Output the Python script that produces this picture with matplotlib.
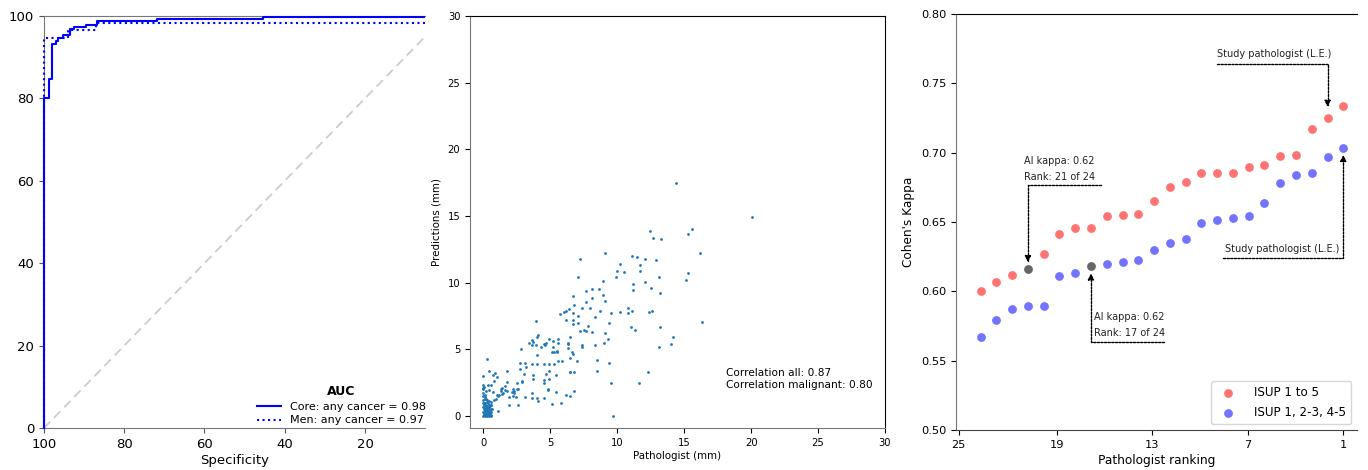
import numpy as np
import matplotlib
matplotlib.use("Agg")
import matplotlib.pyplot as plt
from matplotlib.patches import Rectangle

# ---- panel 1: ROC (specificity vs sensitivity) ----
core_spec = [100, 98.8, 98.1, 97.1, 96.4, 95.2, 93.5, 92.5, 89.5, 86.9, 71.9, 45.5, 0]
core_sens = [0, 80.0, 84.7, 93.3, 94.0, 94.7, 95.5, 96.8, 97.4, 97.8, 98.7, 99.2, 99.7]
men_spec = [100, 94.0, 87.0, 0]
men_sens = [0, 94.7, 96.6, 98.4]
auc_labels = ["Core: any cancer = 0.98", "Men: any cancer = 0.97"]

# ---- panel 2: tumour length, pathologist vs predictions (mm) ----
pathologist_mm = [
    14.4, 12.45, 12.7, 13.3, 15.3, 15.6, 16.2, 9.1, 7.2, 11.1, 11.5, 12.1, 12.9, 11.7,
    10.2, 10.0, 10.5, 11.7, 15.3, 15.1, 7.1, 9.9, 13.1, 8.9, 11.2, 12.1, 12.5, 11.2,
    13.2, 7.7, 8.1, 8.6, 8.9, 6.7, 8.1, 7.7, 9.1, 6.8, 7.4, 8.0, 8.7, 9.5, 10.2, 10.8,
    11.1, 10.8, 12.4, 12.6, 5.7, 6.0, 6.2, 6.4, 6.7, 7.1, 6.2, 6.7, 7.1, 6.7, 8.3, 7.8,
    7.7, 7.5, 7.2, 8.1, 9.4, 9.1, 9.3, 9.0, 8.3, 7.4, 7.4, 6.5, 6.3, 6.3, 6.3, 6.6,
    6.7, 6.5, 7.0, 5.9, 5.6, 5.6, 5.6, 5.2, 5.2, 5.1, 5.3, 5.5, 5.5, 4.9, 4.7, 4.6,
    4.5, 4.3, 4.1, 4.0, 3.9, 3.7, 3.4, 3.6, 3.6, 3.9, 2.8, 4.0, 4.0, 4.9, 4.9, 4.7,
    4.5, 5.3, 5.4, 4.5, 4.5, 4.9, 4.8, 5.4, 5.1, 5.8, 6.2, 6.5, 6.8, 6.5, 6.8, 6.5,
    8.5, 8.5, 9.4, 9.5, 9.7, 11.6, 12.3, 14.0, 14.2, 13.1, 13.2, 11.3, 11.0, 16.3,
    20.1, 3.1, 2.7, 3.2, 3.6, 3.7, 3.7, 3.0, 2.9, 2.7, 2.9, 2.5, 1.8, 1.8, 2.2, 2.3,
    2.5, 2.6, 2.4, 2.1, 2.2, 2.3, 1.8, 1.9, 1.9, 2.6, 3.1, 3.6, 3.6, 4.0, 4.1, 4.5,
    4.8, 1.1, 1.6, 1.4, 1.3, 1.3, 1.6, 1.5, 1.4, 1.2, 1.1, 1.0, 1.0, 0.9, 0.7, 0.45,
    0.8, 0.6, 0.3, 0.0, 0.0, 0.35, 0.0, 0.2, 0.45, 0.7, 0.8, 0.95, 0.6, 0.55, 0.3,
    0.0, 0.05, 0.1, 0.15, 0.2, 0.25, 0.3, 0.35, 0.4, 0.45, 0.5, 0.55, 0.6,
    0.0, 0.1, 0.2, 0.3, 0.4, 0.5, 0.6, 0.05, 0.15, 0.25, 0.35, 0.45, 0.55,
    0.0, 0.1, 0.2, 0.3, 0.4, 0.5, 0.05, 0.15, 0.25, 0.35, 0.45, 0.0, 0.1, 0.2, 0.3,
    0.6, 0.65, 0.02, 0.12, 0.22, 0.32, 0.42, 0.52, 0.08,
    0.0, 0.0, 0.0, 0.05, 0.1, 0.15, 0.0, 0.1,
]
predictions_mm = [
    17.45, 13.9, 13.35, 13.3, 13.65, 14.0, 12.2, 12.25, 11.8, 12.0, 11.95, 11.8, 11.7, 11.3,
    11.4, 10.9, 10.8, 10.85, 10.75, 10.2, 10.4, 10.4, 10.4, 10.15, 9.9, 10.05, 9.6, 9.45,
    9.25, 9.4, 9.5, 9.5, 9.1, 9.0, 8.85, 8.55, 8.6, 8.3, 8.1, 8.1, 7.9, 7.7, 7.8, 8.1,
    7.85, 7.7, 7.8, 7.9, 7.65, 7.8, 7.9, 8.0, 7.7, 7.5, 7.2, 7.2, 7.0, 6.9, 7.45, 6.75,
    6.4, 6.45, 6.4, 6.3, 7.0, 6.2, 5.8, 5.5, 5.3, 5.3, 5.2, 5.9, 5.5, 5.4, 5.1, 4.8,
    4.65, 4.35, 4.1, 4.1, 4.1, 5.75, 5.45, 5.6, 5.2, 4.8, 4.8, 4.9, 4.8, 5.75, 5.5, 5.3,
    5.4, 5.2, 6.1, 5.9, 7.1, 5.55, 5.5, 5.7, 5.35, 5.35, 5.0, 4.55, 3.9, 3.9, 3.35, 3.15,
    3.9, 3.9, 3.1, 2.7, 2.5, 2.8, 1.95, 1.8, 0.9, 1.0, 1.6, 1.5, 1.9, 3.3, 3.3, 3.3,
    4.2, 3.4, 3.95, 2.5, 0.0, 2.5, 3.3, 5.4, 5.9, 5.2, 6.65, 6.45, 6.7, 7.05,
    14.9, 4.0, 4.0, 3.7, 3.9, 3.1, 2.8, 3.15, 2.55, 3.5, 2.6, 2.5, 3.4, 2.55, 2.0, 1.75,
    2.05, 2.0, 1.4, 1.8, 1.5, 1.85, 1.9, 1.4, 0.85, 0.8, 1.45, 1.35, 1.7, 1.35, 1.1, 1.35,
    2.0, 0.35, 2.25, 2.1, 2.05, 1.9, 1.95, 1.75, 1.65, 1.6, 1.5, 1.55, 2.9, 3.2, 3.05, 3.4,
    2.65, 2.3, 4.3, 3.0, 2.3, 2.3, 2.1, 1.9, 1.95, 1.8, 1.2, 1.3, 1.05, 0.85, 0.75,
    0.0, 0.1, 0.0, 0.05, 0.15, 0.0, 0.1, 0.05, 0.0, 0.1, 0.05, 0.0, 0.1,
    0.3, 0.35, 0.25, 0.4, 0.3, 0.35, 0.3, 0.5, 0.55, 0.45, 0.6, 0.5, 0.55,
    0.7, 0.75, 0.8, 0.7, 0.85, 0.75, 0.95, 1.0, 1.05, 0.95, 1.1, 1.2, 1.25, 1.3, 1.2,
    0.8, 0.5, 0.15, 0.2, 0.6, 0.2, 0.65, 0.2, 0.85,
    1.5, 1.7, 2.0, 2.2, 1.6, 1.4, 1.0, 0.45,
]
corr_all = 0.87
corr_malignant = 0.80

# ---- panel 3: Cohen's kappa per pathologist rank ----
ranks = list(range(24, 0, -1))
kappa_isup5 = [0.600, 0.607, 0.612, 0.616, 0.627, 0.641, 0.646, 0.646, 0.654, 0.655, 0.6555,
               0.665, 0.675, 0.679, 0.685, 0.6855, 0.6855, 0.690, 0.691, 0.6976, 0.6985,
               0.717, 0.725, 0.734]
kappa_isup3 = [0.567, 0.579, 0.587, 0.5895, 0.5897, 0.611, 0.613, 0.618, 0.620, 0.621, 0.6225,
               0.630, 0.635, 0.638, 0.6495, 0.6514, 0.6526, 0.654, 0.664, 0.678, 0.684,
               0.685, 0.6967, 0.7034]
ai_rank_isup5 = 21
ai_rank_isup3 = 17
rank_ticks = [25, 19, 13, 7, 1]

fig = plt.figure(figsize=(13.68, 4.70), dpi=100)
ax1 = fig.add_axes([0.03216, 0.08936, 0.2785, 0.8766])
ax2 = fig.add_axes([0.34357, 0.08936, 0.30336, 0.8766])
ax3 = fig.add_axes([0.69883, 0.08511, 0.29313, 0.88511])

# panel 1
ax1.plot([100, 0], [0, 100], ls="--", color="#cccccc", lw=1.3, dashes=(5, 3))
l1, = ax1.step(core_spec, core_sens, where="pre", color="blue", lw=1.5, label=auc_labels[0],
               zorder=3)
l2, = ax1.step(men_spec, men_sens, where="pre", color="blue", lw=1.5, ls=":", label=auc_labels[1],
               zorder=3)
# let the curves sit over the left spine
clip = Rectangle((-0.01, -0.01), 1.01, 1.02, transform=ax1.transAxes, visible=False)
ax1.add_patch(clip)
l1.set_clip_path(clip)
l2.set_clip_path(clip)
ax1.set_xlim(100, 5.05)
ax1.set_ylim(0, 100)
ax1.set_xticks([100, 80, 60, 40, 20])
ax1.set_yticks([0, 20, 40, 60, 80, 100])
ax1.tick_params(labelsize=9.5, color="#555555")
ax1.set_xlabel("Specificity", fontsize=9.5, labelpad=2)
for s in ["top", "bottom", "left"]:
    ax1.spines[s].set_color("#777777")
ax1.spines["right"].set_visible(False)
leg = ax1.legend(loc="lower right", bbox_to_anchor=(1.02, -0.01), frameon=False,
                 fontsize=8, title="AUC", title_fontproperties={"weight": "bold", "size": 9},
                 handlelength=2.2, borderaxespad=0.2, labelspacing=0.35)

# panel 2
ax2.scatter(pathologist_mm, predictions_mm, s=4, color="#1f77b4", linewidths=0)
ax2.set_xlim(-1, 30)
ax2.set_ylim(-0.9, 30)
ax2.set_xticks(range(0, 31, 5))
ax2.set_yticks(range(0, 31, 5))
ax2.tick_params(labelsize=7.2)
ax2.set_xlabel("Pathologist (mm)", fontsize=7.4, labelpad=2)
ax2.set_ylabel("Predictions (mm)", fontsize=7.4)
ax2.text(18.1, 1.95, "Correlation all: %.2f\nCorrelation malignant: %.2f" % (corr_all, corr_malignant),
         fontsize=7.6, ha="left", va="bottom")
ax2.spines["left"].set_color("#777777")
ax2.spines["bottom"].set_color("#777777")

# panel 3
ai_i5 = ranks.index(ai_rank_isup5)
ai_i3 = ranks.index(ai_rank_isup3)
r5 = [r for i, r in enumerate(ranks) if i != ai_i5]
k5 = [k for i, k in enumerate(kappa_isup5) if i != ai_i5]
r3 = [r for i, r in enumerate(ranks) if i != ai_i3]
k3 = [k for i, k in enumerate(kappa_isup3) if i != ai_i3]
ax3.scatter(r5, k5, s=40, color="red", alpha=0.55, linewidths=0, label="ISUP 1 to 5")
ax3.scatter(r3, k3, s=40, color="blue", alpha=0.55, linewidths=0, label="ISUP 1, 2-3, 4-5")
ax3.scatter([ai_rank_isup5, ai_rank_isup3], [kappa_isup5[ai_i5], kappa_isup3[ai_i3]],
            s=40, color="black", alpha=0.6, linewidths=0)
ax3.set_xlim(25.56, 0.13)
ax3.set_ylim(0.5, 0.8)
ax3.set_xticks([25.4, 19.15, 13.1, 7.05, 1])
ax3.set_xticklabels([str(t) for t in rank_ticks])
ax3.set_yticks(np.arange(0.5, 0.81, 0.05))
ax3.tick_params(labelsize=8.2)
ax3.set_xlabel("Pathologist ranking", fontsize=8.7, labelpad=3)
ax3.set_ylabel("Cohen's Kappa", fontsize=8.7)
ax3.spines["right"].set_visible(False)
ax3.spines["left"].set_color("#777777")
ax3.spines["bottom"].set_color("#444444")
ax3.legend(loc="lower right", fontsize=8.6, borderaxespad=0.5, handletextpad=1.2,
           labelspacing=0.6, scatterpoints=1)

arrow_kw = dict(arrowstyle="-|>", color="black", lw=1.0, linestyle=(0, (1.6, 1.0)),
                patchA=None, shrinkA=0, mutation_scale=9)


def callout(text, start, target, text_xy, shrink, ha="left"):
    ax3.annotate("", xy=target, xytext=start,
                 arrowprops=dict(connectionstyle="angle,angleA=0,angleB=90,rad=0",
                                 shrinkB=shrink, **arrow_kw))
    ax3.text(text_xy[0], text_xy[1], text, fontsize=7, ha=ha, va="bottom",
             color="#222222", linespacing=1.75)


callout("Study pathologist (L.E.)", (9.03, 0.7639), (2, kappa_isup5[-2]), (9.03, 0.7675), 8)
callout("AI kappa: %.2f\nRank: %d of 24" % (kappa_isup5[ai_i5], ai_rank_isup5),
        (16.36, 0.6767), (ai_rank_isup5, kappa_isup5[ai_i5]), (21.25, 0.6785), 5)
callout("AI kappa: %.2f\nRank: %d of 24" % (kappa_isup3[ai_i3], ai_rank_isup3),
        (12.37, 0.5637), (ai_rank_isup3, kappa_isup3[ai_i3]), (16.81, 0.5660), 5)
callout("Study pathologist (L.E.)", (8.63, 0.6243), (1, kappa_isup3[-1]), (8.50, 0.6272), 5)

fig.savefig("out.png", dpi=100)
